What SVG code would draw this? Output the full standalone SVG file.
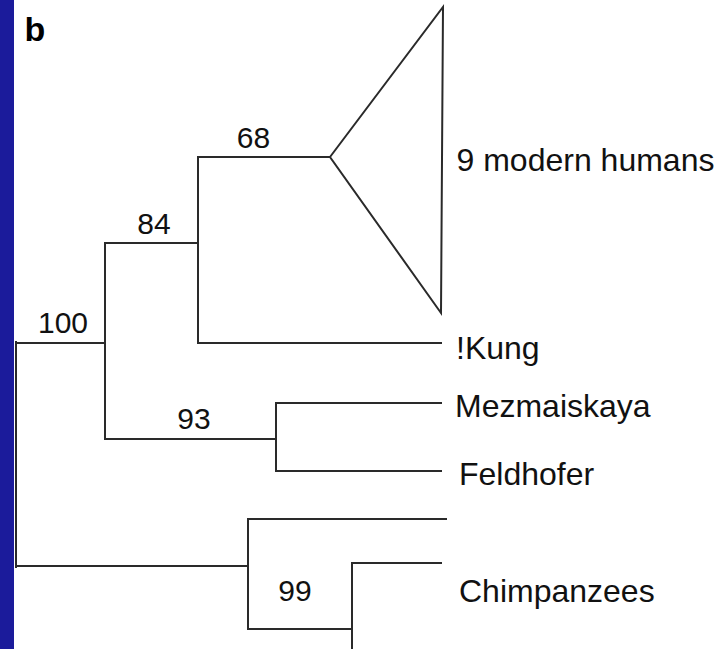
<svg xmlns="http://www.w3.org/2000/svg" width="726" height="649" viewBox="0 0 726 649">
<style>
.br{fill:none;stroke:#2a2a2a;stroke-width:2;stroke-linecap:square;stroke-linejoin:miter}
.num{font-family:"Liberation Sans",Arial,sans-serif;font-size:30px;fill:#111;text-anchor:middle}
.lab{font-family:"Liberation Sans",Arial,sans-serif;font-size:32px;fill:#111}
.panel{font-family:"Liberation Sans",Arial,sans-serif;font-size:34px;font-weight:bold;fill:#000}
</style>
<rect x="0" y="0" width="726" height="649" fill="#fff"/>
<rect x="0" y="0" width="14" height="649" fill="#1b1b9b"/>
<text class="panel" x="24.5" y="40.5">b</text>
<g id="connectors">
<path class="br" d="M16,343 H105 M16,566 H248 M16,342 V567"/>
<path class="br" d="M105,243 V439 M105,243 H198 M105,439 H276"/>
<path class="br" d="M198,157 V343 M198,157 H330 M198,343 H441"/>
<path class="br" d="M276,403 V471 M276,403 H441 M276,471 H441"/>
<path class="br" d="M248,519 V629 M248,519 H446 M248,629 H352"/>
<path class="br" d="M352,563 V660 M352,563 H441"/>
</g>
<g id="node-100"><text class="num" x="63" y="333">100</text></g>
<g id="node-84"><text class="num" x="154" y="234">84</text></g>
<g id="node-68"><text class="num" x="253.5" y="148">68</text></g>
<g id="node-93"><text class="num" x="194" y="429">93</text></g>
<g id="node-99"><text class="num" x="295" y="600.5">99</text></g>
<g id="modern-humans">
<polygon class="br" points="330,157 443,7 441,313"/>
<text class="lab" x="456.5" y="171">9 modern humans</text>
</g>
<g id="kung"><text class="lab" x="456" y="359">!Kung</text></g>
<g id="mezmaiskaya"><text class="lab" x="455" y="417">Mezmaiskaya</text></g>
<g id="feldhofer"><text class="lab" x="459" y="485">Feldhofer</text></g>
<g id="chimpanzees"><text class="lab" x="459" y="601.5">Chimpanzees</text></g>
</svg>
